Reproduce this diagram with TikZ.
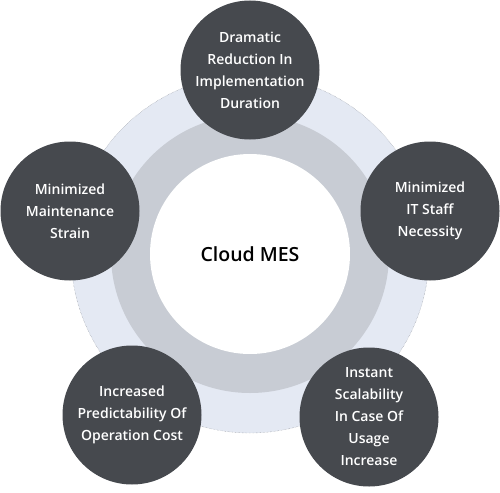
\documentclass[tikz,border=0pt]{standalone}
\usepackage{fontspec}
\setmainfont{Open Sans}[BoldFont={Open Sans Semibold}]
\definecolor{darkgrey}{HTML}{46494E}
\definecolor{paleblue}{HTML}{E4E9F3}
\definecolor{ringgrey}{HTML}{C8CCD4}
\definecolor{dotgrey}{HTML}{8A8E96}
\begin{document}
\begin{tikzpicture}[x=1pt,y=-1pt,
        bubble/.style={circle,fill=darkgrey,minimum size=139pt,inner sep=0pt,
            text=white,align=center,font=\fontsize{14}{22}\selectfont\bfseries}]
        \useasboundingbox (0,0) rectangle (500,492);
        \node[circle,fill=paleblue,draw=dotgrey,densely dotted,minimum size=358pt] (O) at (250,254) {};
        \node[circle,fill=ringgrey,minimum size=278pt] (R) at (250,254) {};
        \node[circle,fill=white,minimum size=200pt,font=\fontsize{19.5}{22}\selectfont\bfseries] (M) at (250,254) {Cloud MES};
        %%%%%%%%%%

        \node[bubble] (A) at (250,70) {Dramatic\\Reduction In\\Implementation\\Duration};
        \node[bubble] (B) at (430,211) {Minimized\\IT Staff\\Necessity};
        \node[bubble] (C) at (369,417) {Instant\\Scalability\\In Case Of\\Usage\\Increase};
        \node[bubble] (D) at (132,415) {Increased\\Predictability Of\\Operation Cost};
        \node[bubble] (E) at (70,211) {Minimized\\Maintenance\\Strain};
    \end{tikzpicture}
\end{document}
